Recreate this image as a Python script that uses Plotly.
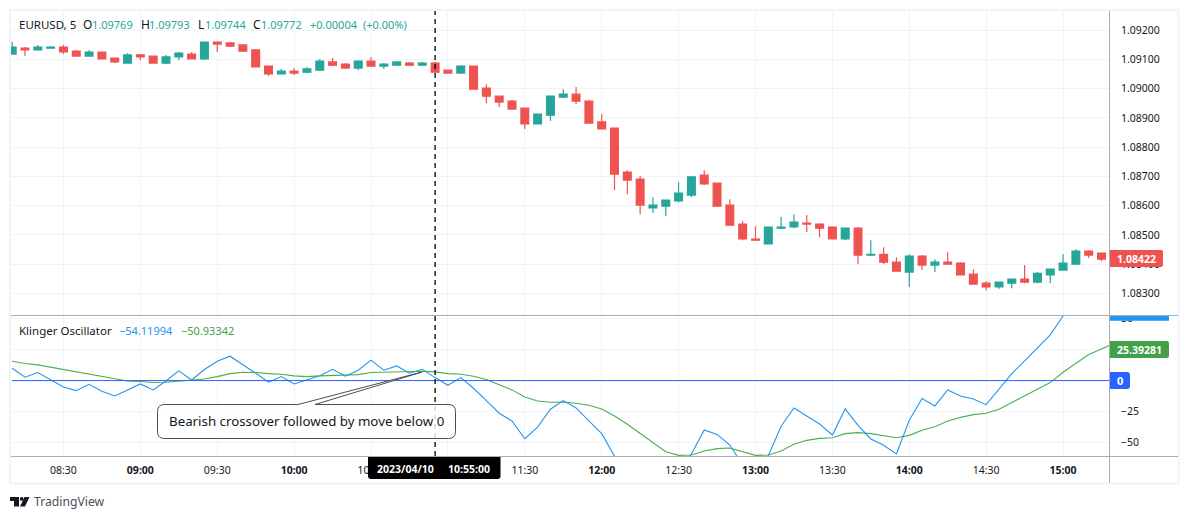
import plotly.graph_objects as go
import pandas as pd

W, H = 1189, 519
L, R, T, B = 11, 1110, 11, 456

start = "2023-04-10 08:10"
bar_open = [
1.09118,1.09138,1.09132,1.09138,1.09142,1.09128,1.09111,1.09125,1.09104,1.09087,
1.09115,1.09111,1.09087,1.09108,1.09118,1.09101,1.09159,1.09156,1.09149,1.09132,
1.09077,1.09050,1.09060,1.09056,1.09063,1.09091,1.09084,1.09070,1.09094,1.09077,
1.09080,1.09087,1.09080,1.09087,1.09063,1.09053,1.09077,1.09002,1.08974,1.08957,
1.08933,1.08879,1.08909,1.08971,1.08981,1.08957,1.08886,1.08865,1.08715,1.08691,
1.08592,1.08598,1.08616,1.08636,1.08704,1.08677,1.08602,1.08537,1.08486,1.08469,
1.08523,1.08527,1.08540,1.08537,1.08527,1.08486,1.08523,1.08431,1.08434,1.08407,
1.08373,1.08428,1.08397,1.08407,1.08404,1.08366,1.08335,1.08322,1.08335,1.08349,
1.08339,1.08363,1.08380,1.08400,1.08445,1.08438]
bar_high = [
1.09159,1.09142,1.09149,1.09145,1.09149,1.09132,1.09132,1.09125,1.09104,1.09121,
1.09118,1.09111,1.09115,1.09125,1.09125,1.09159,1.09162,1.09159,1.09149,1.09132,
1.09077,1.09067,1.09070,1.09074,1.09101,1.09104,1.09087,1.09097,1.09108,1.09087,
1.09091,1.09091,1.09091,1.09091,1.09063,1.09080,1.09077,1.09015,1.08974,1.08961,
1.08933,1.08913,1.08974,1.08998,1.09005,1.08961,1.08913,1.08865,1.08721,1.08701,
1.08629,1.08619,1.08680,1.08701,1.08721,1.08677,1.08622,1.08547,1.08530,1.08527,
1.08561,1.08571,1.08568,1.08540,1.08530,1.08523,1.08527,1.08482,1.08458,1.08424,
1.08434,1.08431,1.08417,1.08441,1.08407,1.08383,1.08342,1.08339,1.08349,1.08397,
1.08373,1.08383,1.08434,1.08451,1.08448,1.08438]
bar_low = [
1.09118,1.09111,1.09132,1.09138,1.09118,1.09111,1.09111,1.09101,1.09087,1.09087,
1.09097,1.09087,1.09084,1.09097,1.09101,1.09097,1.09125,1.09142,1.09125,1.09074,
1.09043,1.09050,1.09046,1.09053,1.09063,1.09077,1.09070,1.09063,1.09074,1.09067,
1.09080,1.09077,1.09077,1.09056,1.09053,1.09053,1.08998,1.08950,1.08937,1.08930,
1.08862,1.08879,1.08889,1.08968,1.08947,1.08882,1.08862,1.08653,1.08639,1.08571,
1.08575,1.08564,1.08612,1.08629,1.08670,1.08598,1.08533,1.08482,1.08482,1.08469,
1.08520,1.08523,1.08510,1.08492,1.08486,1.08482,1.08400,1.08428,1.08400,1.08376,
1.08322,1.08380,1.08373,1.08400,1.08363,1.08332,1.08311,1.08315,1.08318,1.08335,
1.08335,1.08335,1.08380,1.08400,1.08421,1.08410]
bar_close = [
1.09142,1.09132,1.09142,1.09142,1.09125,1.09111,1.09125,1.09101,1.09091,1.09115,
1.09108,1.09087,1.09108,1.09121,1.09101,1.09159,1.09152,1.09145,1.09128,1.09074,
1.09050,1.09060,1.09053,1.09067,1.09094,1.09080,1.09070,1.09094,1.09077,1.09084,
1.09091,1.09080,1.09087,1.09056,1.09053,1.09077,1.08998,1.08974,1.08954,1.08930,
1.08879,1.08913,1.08974,1.08981,1.08957,1.08882,1.08862,1.08708,1.08687,1.08602,
1.08602,1.08619,1.08643,1.08698,1.08674,1.08598,1.08533,1.08486,1.08482,1.08527,
1.08527,1.08544,1.08537,1.08523,1.08486,1.08523,1.08431,1.08434,1.08407,1.08376,
1.08428,1.08397,1.08407,1.08400,1.08363,1.08332,1.08322,1.08339,1.08349,1.08339,
1.08369,1.08383,1.08404,1.08445,1.08431,1.08417]

klinger = [
9.9,2.7,6.5,0.5,-5.1,-8.1,-3.0,-8.6,-12.4,-7.5,
-2.7,-7.5,-0.3,7.8,0.5,8.9,15.6,19.6,12.9,5.9,
-1.3,3.2,-2.7,0.5,3.8,9.1,3.5,8.3,16.4,8.3,
11.8,5.9,9.1,2.4,-3.8,2.4,-6.2,-16.1,-26.3,-32.5,
-46.8,-37.4,-23.1,-16.1,-22.0,-32.5,-42.7,-60.8,-70,-80,
-86,-84,-72,-59,-39.8,-43.3,-51.9,-68,-68,-60.5,
-36.8,-22.0,-28.5,-34.9,-43.8,-22.8,-36.0,-47.0,-52.1,-59.1,
-32.0,-14.5,-20.4,-7.5,-12.4,-14.8,-19.4,-7.0,5.6,15.9,
26.3,36.8,52.0,68,78,88,98]
signal = [
15.6,13.7,12.6,10.8,8.9,6.7,5.1,3.2,1.3,-0.3,
-0.8,-1.6,-1.3,-0.3,0.3,1.3,3.2,5.6,6.7,6.5,
5.6,5.1,3.8,3.2,3.8,4.3,4.3,4.8,6.5,6.7,
7.3,7.5,7.5,7.0,5.6,5.1,3.5,0.8,-3.2,-7.5,
-13.2,-16.4,-17.5,-17.2,-18.3,-19.9,-22.8,-28.5,-35.2,-42.5,
-49.7,-57.3,-60.2,-59.9,-56.7,-54.8,-54.3,-57.0,-60.2,-59.9,
-56.7,-51.3,-48.1,-46.5,-46.0,-42.7,-41.9,-42.7,-44.1,-46.0,
-44.1,-40.0,-37.1,-32.5,-29.6,-27.4,-26.3,-23.1,-17.7,-12.4,
-6.7,-1.6,6.7,13.7,21.0,25.4,30.0]

price_ticks = [1.083,1.084,1.085,1.086,1.087,1.088,1.089,1.090,1.091,1.092]
osc_ticks = [-50,-25,0,25,50]
osc_labels = ["−50","−25","","","50"]
time_ticks = ["08:30","09:00","09:30","10:00","10:30","11:00","11:30","12:00",
              "12:30","13:00","13:30","14:00","14:30","15:00"]
hidden_time_ticks = ["11:00"]
cross_time = "2023-04-10 10:55"

FONT = "Noto Sans"
TXT = "#131722"
UP, DOWN = "#26a69a", "#ef5350"
BLUE, GREEN = "#2196f3", "#4caf50"
DARKGREEN = "#43a047"
GRID = "#f0f3fa"
SEP = "#a9acb5"

bars = pd.date_range(start, periods=len(bar_open), freq="5min")
osc_x = pd.date_range(start, periods=len(klinger), freq="5min")
tick_dt = [f"2023-04-10 {t}" for t in time_ticks]
tick_txt = ["" if t in hidden_time_ticks else
            (f"<b>{t}</b>" if t.endswith(":00") else t) for t in time_ticks]

def X(x):
    return (x - L) / (R - L)
def Y(y):
    return (B - y) / (B - T)

fig = go.Figure()
fig.add_trace(go.Candlestick(
    x=bars, open=bar_open, high=bar_high, low=bar_low, close=bar_close,
    increasing=dict(line=dict(color=UP, width=1.2), fillcolor=UP),
    decreasing=dict(line=dict(color=DOWN, width=1.2), fillcolor=DOWN),
    whiskerwidth=0, showlegend=False, xaxis="x", yaxis="y", hoverinfo="skip"))
fig.add_trace(go.Scatter(x=osc_x, y=signal, mode="lines", line=dict(color=GREEN, width=1.1),
                         xaxis="x", yaxis="y2", showlegend=False, hoverinfo="skip"))
fig.add_trace(go.Scatter(x=osc_x, y=klinger, mode="lines", line=dict(color=BLUE, width=1.1),
                         xaxis="x", yaxis="y2", showlegend=False, hoverinfo="skip"))

def rrect(x0, y0, x1, y1, tl=0, tr=0, br=0, bl=0):
    p = f"M {X(x0+tl)} {Y(y0)} L {X(x1-tr)} {Y(y0)} "
    if tr: p += f"Q {X(x1)} {Y(y0)} {X(x1)} {Y(y0+tr)} "
    p += f"L {X(x1)} {Y(y1-br)} "
    if br: p += f"Q {X(x1)} {Y(y1)} {X(x1-br)} {Y(y1)} "
    p += f"L {X(x0+bl)} {Y(y1)} "
    if bl: p += f"Q {X(x0)} {Y(y1)} {X(x0)} {Y(y1-bl)} "
    p += f"L {X(x0)} {Y(y0+tl)} "
    if tl: p += f"Q {X(x0)} {Y(y0)} {X(x0+tl)} {Y(y0)} "
    return p + "Z"

def pshape(path, fill, line=None, width=0):
    return dict(type="path", xref="paper", yref="paper", path=path, fillcolor=fill,
                line=dict(color=line or "rgba(0,0,0,0)", width=width), layer="above")

def pline(x0, y0, x1, y1, color, width=1, dash="solid"):
    return dict(type="line", xref="paper", yref="paper", x0=X(x0), x1=X(x1), y0=Y(y0), y1=Y(y1),
                line=dict(color=color, width=width, dash=dash), layer="above")

def poly(points):
    return "M " + " L ".join(f"{X(u)} {Y(v)}" for u, v in points) + " Z"

bx0, by0, bx1, by1, r = 157.5, 404.5, 455.5, 438.5, 7
callout = (f"M {X(bx0+r)} {Y(by0)} L {X(298)} {Y(by0)} L {X(422)} {Y(372)} L {X(315)} {Y(by0)} "
           f"L {X(bx1-r)} {Y(by0)} Q {X(bx1)} {Y(by0)} {X(bx1)} {Y(by0+r)} "
           f"L {X(bx1)} {Y(by1-r)} Q {X(bx1)} {Y(by1)} {X(bx1-r)} {Y(by1)} "
           f"L {X(bx0+r)} {Y(by1)} Q {X(bx0)} {Y(by1)} {X(bx0)} {Y(by1-r)} "
           f"L {X(bx0)} {Y(by0+r)} Q {X(bx0)} {Y(by0)} {X(bx0+r)} {Y(by0)} Z")

shapes = [
    dict(type="line", xref="x", yref="y2", x0=bars[0], x1=bars[-1] + pd.Timedelta(minutes=10),
         y0=0, y1=0, line=dict(color="#2962ff", width=1), layer="above"),
    dict(type="line", xref="x", yref="paper", x0=cross_time, x1=cross_time, y0=0, y1=1,
         line=dict(color="#000000", width=1.3, dash="5px,4px"), layer="above"),
    pshape(callout, "rgba(255,255,255,0.82)", "#4a4d55", 1),
    dict(type="rect", xref="paper", yref="paper", x0=X(10), x1=X(1178.5), y0=Y(10), y1=Y(483.5),
         line=dict(color=GRID, width=2), fillcolor="rgba(0,0,0,0)", layer="above"),
    pline(11, 315.5, 1178, 315.5, SEP),
    pline(11, 456.5, 1178, 456.5, SEP),
    pline(1109.5, 11, 1109.5, 483, SEP),
    pshape(rrect(1110, 250, 1163, 267, 0, 2, 2, 0), DOWN),
    pshape(rrect(1110, 341, 1169, 358, 0, 2, 2, 0), DARKGREEN),
    pshape(rrect(1110, 372, 1130, 389, 0, 3, 3, 0), "#2962ff"),
    pshape(rrect(1110, 316, 1169, 320.7), BLUE),
    pshape(rrect(1111, 300, 1177, 315), "#ffffff"),
    pshape(rrect(368, 457, 500.5, 479, 0, 0, 3, 3), "#000000"),
    pshape(poly([(10,497),(19,497),(19,506.5),(14,506.5),(14,501),(10,501)]), TXT),
    dict(type="circle", xref="paper", yref="paper", x0=X(19.8), x1=X(23.6), y0=Y(497), y1=Y(500.8),
         fillcolor=TXT, line=dict(width=0), layer="above"),
    pshape(poly([(24.5,497),(29.5,497),(25,506.5),(20,506.5)]), TXT),
]

def note(x, y, text, color=TXT, size=12, anchor="left"):
    return dict(xref="paper", yref="paper", x=X(x), y=Y(y), xanchor=anchor, yanchor="middle",
                text=text, showarrow=False, align="left", borderpad=0,
                font=dict(family=FONT, size=size, color=color))

annotations = [
    note(18, 24.5, "EURUSD, 5", TXT, 11.5),
    note(82, 24.5, "O"), note(91, 24.5, "1.09769", UP, 11),
    note(140, 24.5, "H"), note(148, 24.5, "1.09793", UP, 11),
    note(197, 24.5, "L"), note(204, 24.5, "1.09744", UP, 11),
    note(252, 24.5, "C"), note(260, 24.5, "1.09772", UP, 11),
    note(309, 24.5, "+0.00004", UP, 11), note(362, 24.5, "(+0.00%)", UP, 11),
    note(18, 330.5, "Klinger Oscillator", TXT, 11.5),
    note(118, 330.5, "−54.11994", BLUE, 11),
    note(180, 330.5, "−50.93342", DARKGREEN, 11),
    note(168, 420.5, "Bearish crossover followed by move below 0", TXT, 13.3),
    note(1136.5, 258.5, "<b>1.08422</b>", "#ffffff", 10.5, "center"),
    note(1139.5, 349.5, "<b>25.39281</b>", "#ffffff", 10.5, "center"),
    note(1120, 380.5, "<b>0</b>", "#ffffff", 11, "center"),
    note(376, 469, "<b>2023/04/10</b>", "#ffffff", 10.5),
    note(447, 469, "<b>10:55:00</b>", "#ffffff", 10.5),
    note(33, 501, "TradingView", "#4a4e59", 12.2),
]

x_lo = pd.Timestamp("2023-04-10 08:09:32")
x_hi = pd.Timestamp("2023-04-10 15:18:19")
split = (B - 315.7) / (B - T)
AXF = dict(family=FONT, size=10.5, color=TXT)

fig.update_layout(
    width=W, height=H, autosize=False,
    margin=dict(l=L, r=W - R, t=T, b=H - B, pad=0, autoexpand=False),
    paper_bgcolor="#ffffff", plot_bgcolor="#ffffff",
    font=dict(family=FONT, size=12, color=TXT),
    showlegend=False, dragmode=False, boxgap=0.39, boxgroupgap=0,
    shapes=shapes, annotations=annotations,
    xaxis=dict(type="date", range=[x_lo, x_hi], anchor="y2", domain=[0, 1],
               tickmode="array", tickvals=tick_dt, ticktext=tick_txt, tickangle=0,
               showgrid=True, gridcolor=GRID, gridwidth=1, zeroline=False, showline=False,
               ticks="", ticklabelstandoff=6, rangeslider=dict(visible=False), tickfont=AXF),
    yaxis=dict(domain=[split, 1], range=[1.08224, 1.09265], side="right", anchor="x",
               tickmode="array", tickvals=price_ticks, tickformat=".5f",
               showgrid=True, gridcolor=GRID, gridwidth=1, zeroline=False, showline=False,
               ticks="", ticklabelstandoff=10, tickfont=AXF),
    yaxis2=dict(domain=[0, split], range=[-60.7, 52.2], side="right", anchor="x",
                tickmode="array", tickvals=osc_ticks, ticktext=osc_labels,
                showgrid=True, gridcolor=GRID, gridwidth=1, zeroline=False, showline=False,
                ticks="", ticklabelstandoff=10, tickfont=AXF),
)

fig.write_html("out.html", config=dict(displayModeBar=False, staticPlot=True),
               post_script="document.body.style.margin='0';document.body.style.overflow='hidden';")
